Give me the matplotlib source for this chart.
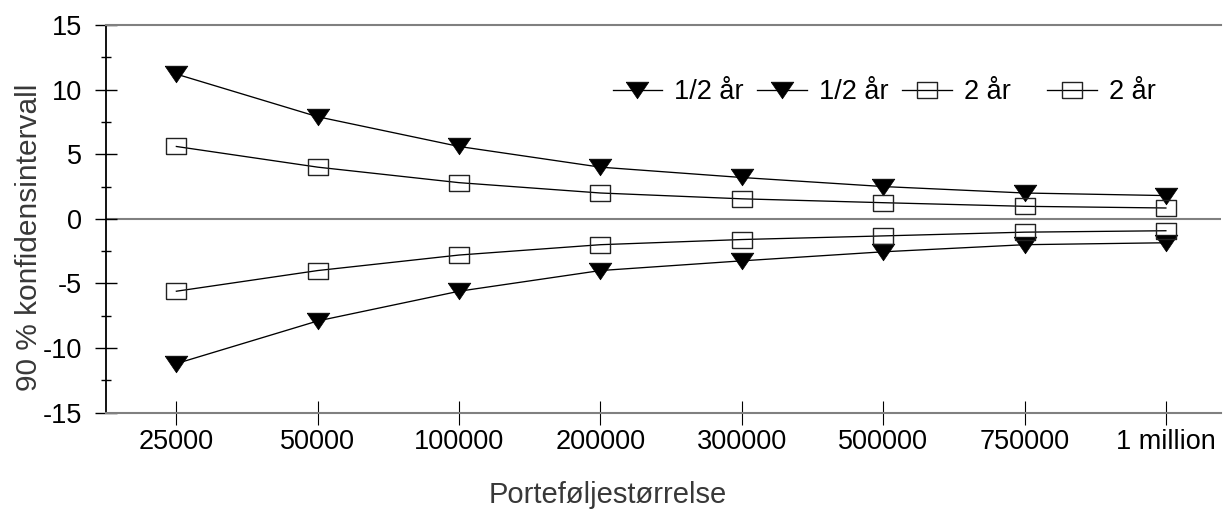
import numpy as np
import matplotlib
matplotlib.use("Agg")
import matplotlib.pyplot as plt

plt.rcParams['font.family'] = ['Liberation Sans', 'DejaVu Sans']

# ---- data ----
categories = ["25000", "50000", "100000", "200000", "300000", "500000", "750000", "1 million"]
half_year_upper = [11.2, 7.9, 5.6, 4.0, 3.2, 2.5, 2.0, 1.8]
half_year_lower = [-11.2, -7.9, -5.6, -4.0, -3.25, -2.55, -2.0, -1.85]
two_year_upper = [5.6, 4.0, 2.8, 2.0, 1.55, 1.25, 0.97, 0.84]
two_year_lower = [-5.6, -4.0, -2.8, -2.0, -1.6, -1.32, -1.03, -0.92]
series_labels = ["1/2 år", "1/2 år", "2 år", "2 år"]
yticks = [-15, -10, -5, 0, 5, 10, 15]
ytick_labels = ["-15", "-10", "-5", "0", "5", "10", "15"]
yminor = [-12.5, -7.5, -2.5, 2.5, 7.5, 12.5]
xlabel = "Porteføljestørrelse"
ylabel = "90 % konfidensintervall"

W, H = 1223, 509
fig = plt.figure(figsize=(W / 100, H / 100), dpi=100)
left_px, right_px, top_px, bot_px = 105.7, 1221, 25, 412.7
ax = fig.add_axes([left_px / W, (H - bot_px) / H, (right_px - left_px) / W, (bot_px - top_px) / H])

tri = [(-1, 0.735), (1, 0.735), (0, -0.735), (-1, 0.735)]
rect = [(-1, -0.735), (1, -0.735), (1, 0.735), (-1, 0.735), (-1, -0.735)]

x = np.arange(len(categories))
l1, = ax.plot(x, half_year_upper, color='black', lw=0.95, marker=tri, ms=16.3,
              mfc='black', mec='black', mew=0.5, label=series_labels[0], zorder=3)
l2, = ax.plot(x, half_year_lower, color='black', lw=0.95, marker=tri, ms=16.3,
              mfc='black', mec='black', mew=0.5, label=series_labels[1], zorder=3)
l3, = ax.plot(x, two_year_upper, color='black', lw=0.95, marker=rect, ms=14.8,
              mfc='none', mec='#222222', mew=1.0, label=series_labels[2], zorder=3)
l4, = ax.plot(x, two_year_lower, color='black', lw=0.95, marker=rect, ms=14.8,
              mfc='none', mec='#222222', mew=1.0, label=series_labels[3], zorder=3)

ax.axhline(0, color='#808080', lw=1.5, zorder=1)

ax.set_xlim(-0.5, 7.39)
ax.set_ylim(-15, 15)

ax.spines['right'].set_visible(False)
for s in ['top', 'bottom']:
    ax.spines[s].set_color('#808080')
    ax.spines[s].set_linewidth(1.5)
ax.spines['left'].set_color('black')
ax.spines['left'].set_linewidth(1.3)

ax.set_yticks(yticks)
ax.set_yticklabels(ytick_labels)
ax.set_yticks(yminor, minor=True)
ax.tick_params(axis='y', which='major', direction='inout', length=15.8, width=1.0,
               color='black', pad=9, labelsize=19.5)
ax.tick_params(axis='y', which='minor', direction='inout', length=7.2, width=1.0, color='black')

ax.set_xticks(x)
ax.set_xticklabels(categories)
ax.tick_params(axis='x', which='major', direction='inout', length=17.3, width=0.8,
               color='black', pad=3, labelsize=19.5)

fig.text(607.5 / W, (H - 503) / H, xlabel, ha='center', va='baseline',
         fontsize=21, color='#383838')
fig.text(37 / W, 1 - 237.5 / H, ylabel, rotation=90, rotation_mode='anchor',
         ha='center', va='baseline', fontsize=21.5, color='#383838')

leg_x = [612.6, 757, 902, 1047]
for h, xp in zip([l1, l2, l3, l4], leg_x):
    fig.legend(handles=[h], labels=[h.get_label()], loc='center left',
               bbox_to_anchor=(xp / W, 1 - 92 / H), frameon=False, borderpad=0,
               borderaxespad=0, handlelength=1.83, handletextpad=0.45,
               fontsize=19.5)

fig.savefig("out.png", dpi=100)
